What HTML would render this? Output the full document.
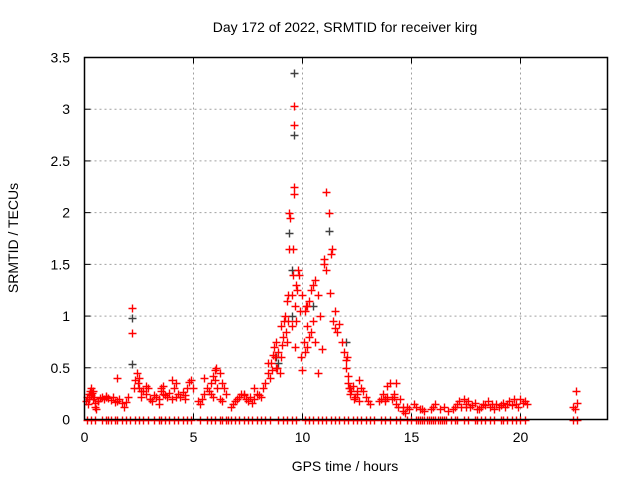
<!DOCTYPE html>
<html><head><meta charset="utf-8"><style>
body{margin:0;background:#fff;}
svg{display:block;font-family:"Liberation Sans",sans-serif;}
</style></head><body>
<svg width="640" height="480" xmlns="http://www.w3.org/2000/svg">
<g id="grid"></g>
<g id="axes"></g>
<g id="marks"></g>
<text x="345" y="32" text-anchor="middle" font-size="14">Day 172 of 2022, SRMTID for receiver kirg</text>
<text x="345" y="471" text-anchor="middle" font-size="14">GPS time / hours</text>
<text x="18" y="238" text-anchor="middle" font-size="14" transform="rotate(-90 18 238)">SRMTID / TECUs</text>
<rect x="84.5" y="57.5" width="523" height="362" fill="none" stroke="#000" stroke-width="1.5"/>
</svg>
<script>
const xTicks=[0,5,10,15,20];
const yTicks=[0,0.5,1,1.5,2,2.5,3,3.5];
const yTickLabels=["0","0.5","1","1.5","2","2.5","3","3.5"];
const redHours=[0.05,0.1,0.15,0.2,0.25,0.3,0.35,0.4,0.45,0.5,0.55,0.6,0.7,0.8,0.9,1.0,1.1,1.2,1.3,1.4,1.5,1.6,1.7,1.8,1.9,2.0,0.3,0.4,0.5,
2.2,2.2,2.25,2.3,2.4,2.45,2.5,2.6,2.7,2.8,2.9,3.0,3.1,3.2,3.3,3.4,3.5,3.6,3.7,3.8,3.9,4.0,4.1,4.2,4.3,4.4,4.5,4.6,4.7,4.8,4.9,5.0,2.5,2.8,3.4,3.6,4.0,
5.2,5.3,5.4,5.5,5.6,5.7,5.8,5.9,6.0,6.0,6.05,6.1,6.2,6.3,6.4,6.5,5.9,6.2,6.7,6.8,6.9,7.0,7.1,7.2,7.3,7.4,7.5,7.6,7.7,7.8,7.9,8.0,8.1,8.2,
8.3,8.4,8.5,8.55,8.6,8.65,8.7,8.75,8.8,8.85,8.9,8.95,9.0,9.05,9.1,9.15,9.2,9.25,9.3,9.3,9.35,9.35,9.4,9.4,9.45,9.5,9.5,9.55,9.55,9.6,9.6,9.6,9.6,9.65,9.65,9.7,9.7,9.75,9.8,9.85,9.9,9.95,10.0,10.0,10.05,10.1,10.1,10.15,10.2,10.2,10.3,10.3,10.4,10.4,10.5,10.5,10.6,10.6,10.7,10.8,10.9,11.0,11.0,11.1,11.1,11.2,11.25,11.3,11.35,11.4,11.5,11.5,11.6,11.7,11.8,11.9,12.0,12.0,12.05,12.1,12.1,12.15,12.2,12.25,12.3,12.35,12.4,12.5,12.6,12.7,12.8,12.9,13.0,13.1,
13.5,13.6,13.7,13.8,13.9,14.0,14.1,14.2,14.3,14.4,14.5,14.6,14.7,14.8,14.9,15.1,15.2,15.4,15.6,15.9,16.0,16.1,16.3,16.5,16.7,16.9,17.0,17.1,17.2,17.3,17.4,17.5,17.6,17.7,17.8,17.9,18.0,18.2,18.3,18.4,18.5,18.6,18.7,18.8,19.0,19.1,19.2,19.3,19.4,19.5,19.6,19.7,19.8,19.9,20.0,20.1,20.2,20.3,22.4,22.5,22.6,22.55,13.9,14.2,14.3,12.6,12.5,
0.2,0.6,1.0,1.5,2.6,3.0,3.5,4.2,4.6,5.5,5.8,6.3,7.3,7.8,8.4,8.8,9.0,10.2,10.7,12.2,13.8,14.6,15.5,17.5,18.1,18.9,19.8];
const redValues=[0.18,0.22,0.15,0.25,0.28,0.3,0.26,0.2,0.22,0.12,0.1,0.18,0.21,0.22,0.2,0.23,0.21,0.19,0.22,0.17,0.18,0.2,0.16,0.12,0.17,0.22,0.24,0.28,0.16,
1.08,0.84,0.3,0.38,0.45,0.35,0.3,0.22,0.28,0.25,0.3,0.2,0.18,0.24,0.22,0.2,0.28,0.32,0.24,0.22,0.26,0.38,0.3,0.35,0.25,0.22,0.27,0.24,0.3,0.36,0.38,0.3,0.4,0.32,0.15,0.25,0.2,
0.18,0.15,0.2,0.25,0.3,0.28,0.35,0.42,0.48,0.38,0.5,0.3,0.45,0.35,0.3,0.25,0.22,0.2,0.12,0.15,0.18,0.2,0.22,0.25,0.24,0.2,0.18,0.22,0.16,0.2,0.25,0.24,0.22,0.3,
0.35,0.45,0.4,0.55,0.48,0.62,0.7,0.6,0.75,0.5,0.65,0.45,0.6,0.72,0.8,0.95,1.0,0.85,1.15,0.75,1.2,0.95,1.65,2.0,1.95,1.2,0.9,1.4,1.65,2.85,3.03,2.25,2.18,1.1,0.7,0.95,1.3,1.25,1.45,1.4,1.05,0.6,0.48,1.2,0.75,1.05,0.65,1.1,0.9,0.7,0.8,1.15,1.25,0.85,1.3,0.95,1.35,0.75,1.2,1.0,0.68,1.5,1.55,1.45,2.2,2.0,1.22,1.6,1.65,0.95,1.05,0.88,0.85,0.92,0.75,0.65,0.58,0.5,0.6,0.35,0.42,0.3,0.25,0.28,0.32,0.2,0.22,0.25,0.18,0.3,0.28,0.22,0.18,
0.15,0.18,0.2,0.25,0.18,0.22,0.35,0.2,0.25,0.15,0.12,0.2,0.08,0.06,0.12,0.1,0.15,0.12,0.1,0.08,0.1,0.12,0.15,0.1,0.12,0.08,0.1,0.12,0.15,0.18,0.12,0.2,0.15,0.18,0.12,0.14,0.16,0.1,0.12,0.15,0.14,0.18,0.12,0.15,0.1,0.12,0.14,0.16,0.12,0.15,0.18,0.14,0.2,0.15,0.12,0.2,0.16,0.18,0.15,0.12,0.1,0.16,0.28,0.32,0.22,0.35,0.38,
0.28,0.2,0.18,0.22,0.4,0.28,0.2,0.3,0.22,0.2,0.4,0.25,0.18,0.25,0.3,0.55,0.5,0.9,1.1,0.45,0.3,0.2,0.12,0.1,0.12,0.1,0.15];
const grayHours=[2.2,2.2,9.6,9.6,11.2,9.4,9.5,12.0,8.8,10.5,9.5,8.9];
const grayValues=[0.98,0.54,3.35,2.75,1.82,1.8,1.45,0.75,0.6,1.1,1.0,0.55];
const zeroHours=[0.1,0.3,0.5,0.8,1.0,1.1,1.2,1.4,1.5,1.7,1.9,2.1,2.3,2.5,2.7,2.9,3.2,3.4,3.5,3.7,3.9,4.1,4.3,4.5,4.7,4.9,5.3,5.6,5.8,6.0,6.2,6.3,6.5,6.6,6.7,6.9,7.1,7.3,7.5,7.7,7.9,8.1,8.3,8.5,8.9,9.1,9.3,9.5,9.7,10.1,10.3,10.5,10.7,10.9,11.1,11.3,11.5,11.7,11.9,12.1,12.3,12.5,12.7,12.9,13.1,13.3,13.6,13.8,14.0,14.3,14.5,14.8,15.0,15.2,15.3,15.4,15.5,15.6,15.7,15.8,15.9,16.0,16.1,16.2,16.3,16.4,16.5,16.6,16.8,17.0,17.1,17.4,17.6,17.9,18.0,18.2,18.4,18.6,18.8,19.1,19.2,19.4,19.6,19.8,20.0,20.2,22.4,22.6];
const NS="http://www.w3.org/2000/svg";
const X0=84.5,X1=607.5,Y0=419.5,Y1=57.5;
const sx=h=>X0+h/24*(X1-X0);
const sy=v=>Y0-v/3.5*(Y0-Y1);
function mk(tag,attrs,parent){const e=document.createElementNS(NS,tag);for(const k in attrs)e.setAttribute(k,attrs[k]);parent.appendChild(e);return e;}
const grid=document.getElementById('grid'),axes=document.getElementById('axes'),marks=document.getElementById('marks');
xTicks.forEach(t=>{const x=Math.round(sx(t)-0.5)+0.5;
 if(t>0){const g=mk('line',{x1:x,x2:x,y1:Y0,y2:Y1,stroke:'#a0a0a0','stroke-dasharray':'2,3'},grid);
 
 }
 mk('line',{x1:x,x2:x,y1:Y0,y2:Y0-6,stroke:'#000'},axes);mk('line',{x1:x,x2:x,y1:Y1,y2:Y1+6,stroke:'#000'},axes);
 const tx=mk('text',{x:x,y:442,'text-anchor':'middle','font-size':'14'},axes);tx.textContent=t;
 
 });
yTicks.forEach((t,i)=>{const y=sy(t);
 if(t>0&&t<3.5){const g=mk('line',{x1:X0,x2:X1,y1:y,y2:y,stroke:'#a0a0a0','stroke-dasharray':'2,3'},grid);
 
 }
 mk('line',{x1:X0,x2:X0+6,y1:y,y2:y,stroke:'#000'},axes);mk('line',{x1:X1,x2:X1-6,y1:y,y2:y,stroke:'#000'},axes);
 const tx=mk('text',{x:70,y:y+5,'text-anchor':'end','font-size':'14'},axes);tx.textContent=yTickLabels[i];
 
 });
function plus(h,v,col,name){const x=Math.round(sx(h))+0.5,y=Math.round(sy(v))+0.5;
 const p=mk('path',{d:`M${x-4} ${y}H${x+4}M${x} ${y-4}V${y+4}`,stroke:col,'stroke-width':'1.4',fill:'none'},marks);
 
 }
zeroHours.forEach(h=>plus(h,0,'#ff0000','zero-point'));
grayHours.forEach((h,i)=>plus(h,grayValues[i],'#404040','gray-point'));
redHours.forEach((h,i)=>plus(h,redValues[i],'#ff0000','red-point'));
</script>
</body></html>
